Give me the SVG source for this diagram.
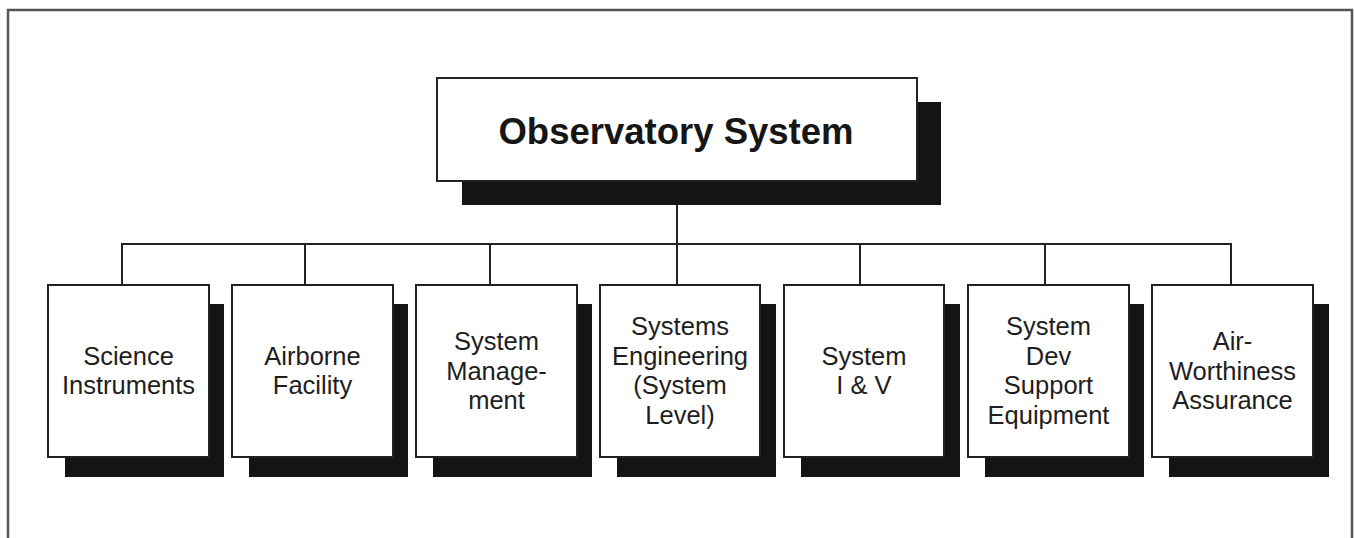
<svg xmlns="http://www.w3.org/2000/svg" width="1354" height="538" viewBox="0 0 1354 538">
<style>
.box{fill:#ffffff;stroke:#222;stroke-width:2}
.sh{fill:#141414}
.lbl{font-family:"Liberation Sans",Arial,sans-serif;font-size:25.5px;fill:#1e1e1e;text-anchor:middle}
.title{font-family:"Liberation Sans",Arial,sans-serif;font-size:36.5px;font-weight:bold;fill:#161616;text-anchor:middle}
.ln{stroke:#222;stroke-width:2;fill:none}
</style>
<rect width="1354" height="538" fill="#ffffff"/>
<path d="M8,538 V10 H1352 V538" fill="none" stroke="#555" stroke-width="2.5"/>
<g id="connectors">
<path class="ln" d="M677,182 V244"/>
<path class="ln" d="M122,286 V244 H1231 V286"/>
<path class="ln" d="M305,244 V286"/>
<path class="ln" d="M490,244 V286"/>
<path class="ln" d="M677,244 V286"/>
<path class="ln" d="M860,244 V286"/>
<path class="ln" d="M1045,244 V286"/>
</g>
<g id="observatory-system">
<rect class="sh" x="462" y="102" width="479" height="103"/>
<rect class="box" x="437" y="78" width="480" height="103"/>
<text class="title" x="676" y="144">Observatory System</text>
</g>
<g id="science-instruments">
<rect class="sh" x="65" y="304" width="159" height="173"/>
<rect class="box" x="48" y="285" width="161" height="172"/>
<text class="lbl" x="128.5" y="365">Science</text>
<text class="lbl" x="128.5" y="394">Instruments</text>
</g>
<g id="airborne-facility">
<rect class="sh" x="249" y="304" width="159" height="173"/>
<rect class="box" x="232" y="285" width="161" height="172"/>
<text class="lbl" x="312.5" y="365">Airborne</text>
<text class="lbl" x="312.5" y="394">Facility</text>
</g>
<g id="system-management">
<rect class="sh" x="433" y="304" width="159" height="173"/>
<rect class="box" x="416" y="285" width="161" height="172"/>
<text class="lbl" x="496.5" y="350">System</text>
<text class="lbl" x="496.5" y="380">Manage-</text>
<text class="lbl" x="496.5" y="409">ment</text>
</g>
<g id="systems-engineering">
<rect class="sh" x="617" y="304" width="159" height="173"/>
<rect class="box" x="600" y="285" width="160" height="172"/>
<text class="lbl" x="680" y="335">Systems</text>
<text class="lbl" x="680" y="365">Engineering</text>
<text class="lbl" x="680" y="394">(System</text>
<text class="lbl" x="680" y="424">Level)</text>
</g>
<g id="system-iv">
<rect class="sh" x="801" y="304" width="159" height="173"/>
<rect class="box" x="784" y="285" width="160" height="172"/>
<text class="lbl" x="864" y="365">System</text>
<text class="lbl" x="864" y="394">I &amp; V</text>
</g>
<g id="system-dev-support-equipment">
<rect class="sh" x="985" y="304" width="159" height="173"/>
<rect class="box" x="968" y="285" width="161" height="172"/>
<text class="lbl" x="1048.5" y="335">System</text>
<text class="lbl" x="1048.5" y="365">Dev</text>
<text class="lbl" x="1048.5" y="394">Support</text>
<text class="lbl" x="1048.5" y="424">Equipment</text>
</g>
<g id="air-worthiness-assurance">
<rect class="sh" x="1169" y="304" width="160" height="173"/>
<rect class="box" x="1152" y="285" width="161" height="172"/>
<text class="lbl" x="1232.5" y="350">Air-</text>
<text class="lbl" x="1232.5" y="380">Worthiness</text>
<text class="lbl" x="1232.5" y="409">Assurance</text>
</g>
</svg>
